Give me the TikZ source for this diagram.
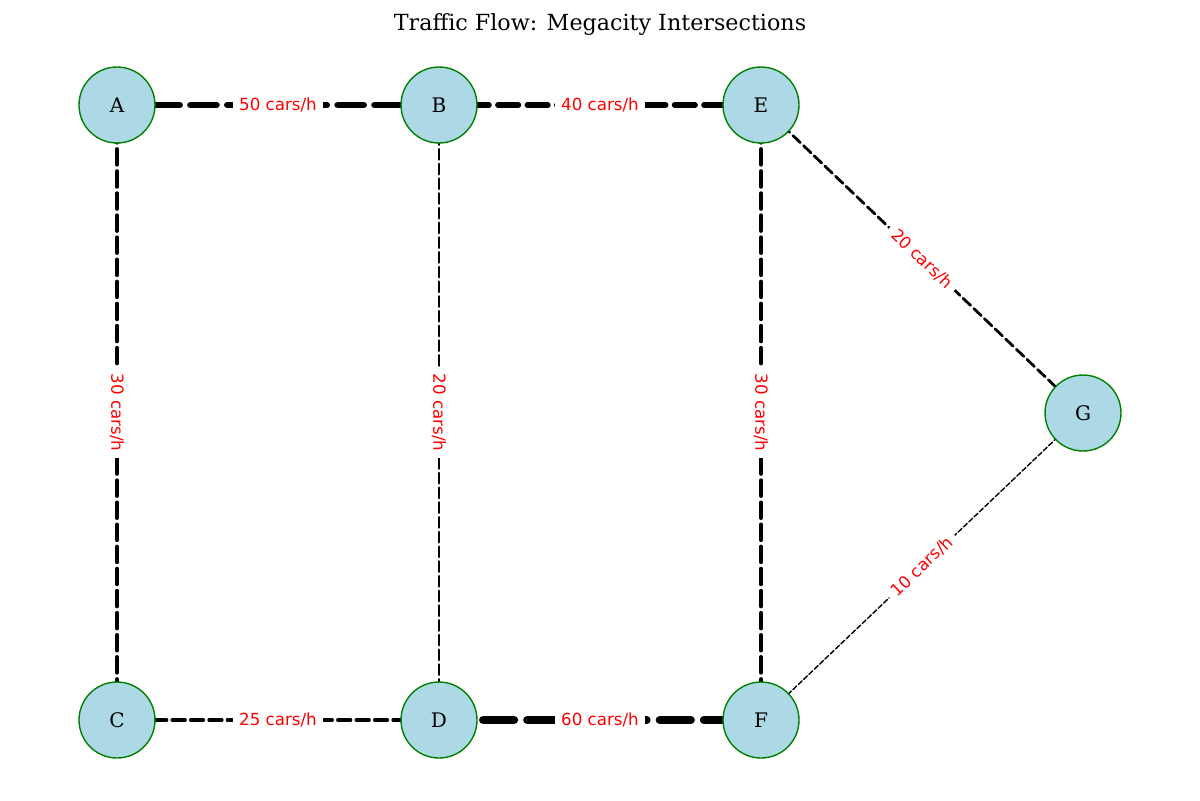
\documentclass[tikz,border=0pt]{standalone}
\usepackage{fontspec}
\usetikzlibrary{backgrounds}
\setmainfont{DejaVu Serif}
\newfontfamily\labfont{DejaVu Sans}
\definecolor{nodefill}{HTML}{ADD8E6}
\definecolor{nodeedge}{HTML}{008000}
\begin{document}
\begin{tikzpicture}[x=0.72bp,y=0.72bp,
  city/.style={circle,fill=nodefill,draw=nodeedge,line width=1bp,minimum size=54.7bp,inner sep=0pt,font=\fontsize{14.5}{16}\selectfont},
  road/.style={line width=#1bp,line cap=round,
    /utils/exec={\pgfmathsetmacro\dOn{3.7*#1}\pgfmathsetmacro\dOff{1.6*#1}},
    dash pattern=on \dOn bp off \dOff bp},
  flow/.style={fill=white,text=red,inner sep=4.5bp,solid,font=\labfont\fontsize{12.05}{14}\selectfont}]
\useasboundingbox (0,0) rectangle (1200,-800);
\node[font=\fontsize{16.06}{19}\selectfont] (title) at (600,-25) {Traffic Flow: Megacity Intersections};
% nodes
\node[city] (A) at (117,-105) {A};
\node[city] (B) at (439,-105) {B};
\node[city] (E) at (761,-105) {E};
\node[city] (G) at (1083,-413) {G};
\node[city] (C) at (117,-720) {C};
\node[city] (D) at (439,-720) {D};
\node[city] (F) at (761,-720) {F};
\begin{scope}[on background layer]
\fill[white] (0,0) rectangle (1200,-800);
\draw[road=5] (A.center) -- (B.center) node[flow,midway] (lAB) {50 cars/h};
\draw[road=3] (A.center) -- (C.center) node[flow,midway,rotate=-90] (lAC) {30 cars/h};
\draw[road=4] (B.center) -- (E.center) node[flow,midway] (lBE) {40 cars/h};
\draw[road=2] (B.center) -- (D.center) node[flow,midway,rotate=-90] (lBD) {20 cars/h};
\draw[road=2.5] (C.center) -- (D.center) node[flow,midway] (lCD) {25 cars/h};
\draw[road=6] (D.center) -- (F.center) node[flow,midway] (lDF) {60 cars/h};
\draw[road=3] (E.center) -- (F.center) node[flow,midway,rotate=-90] (lEF) {30 cars/h};
\draw[road=2] (E.center) -- (G.center) node[flow,midway,rotate=-43.7] (lEG) {20 cars/h};
\draw[road=1] (F.center) -- (G.center) node[flow,midway,rotate=43.7] (lFG) {10 cars/h};
\end{scope}
\end{tikzpicture}
\end{document}
